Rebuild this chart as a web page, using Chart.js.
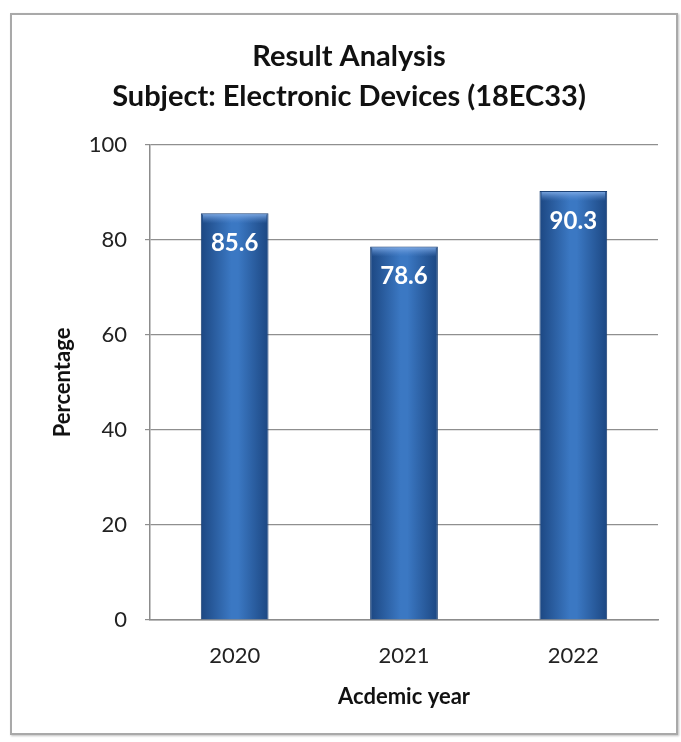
<!DOCTYPE html>
<html>
<head>
<meta charset="utf-8">
<script src="https://cdn.jsdelivr.net/npm/chart.js@4.4.1/dist/chart.umd.min.js"></script>
<style>
  html, body { margin: 0; padding: 0; background: #fff; }
  #moldura {
    position: absolute; left: 10px; top: 13px;
    width: 664px; height: 718px;
    border: 2px solid #a9a9a9;
    box-shadow: 1px 1px 2px rgba(0,0,0,0.25);
  }
  #chart { position: absolute; left: 0; top: 0; }
</style>
</head>
<body>
<div id="moldura"></div>
<canvas id="chart" width="681" height="742"></canvas>
<script>
// Resultado por ano acadêmico
const anos = ['2020', '2021', '2022'];
const percentuais = [85.6, 78.6, 90.3];
const titulo = ['Result Analysis', 'Subject: Electronic Devices (18EC33)'];

const FONTE = "Lato, 'Open Sans', sans-serif";

// gradiente horizontal de cada barra (bordas escuras, centro claro)
function corBarra(context) {
    const chart = context.chart;
    if (!chart.chartArea) return '#2f66ad';
    const x = chart.scales.x.getPixelForValue(context.dataIndex);
    const largura = chart.chartArea.width / anos.length * 0.4;
    const g = chart.ctx.createLinearGradient(x - largura / 2, 0, x + largura / 2, 0);
    g.addColorStop(0, '#1c4782');
    g.addColorStop(0.45, '#3b78c3');
    g.addColorStop(0.55, '#3b78c3');
    g.addColorStop(1, '#1c4782');
    return g;
}

// destaque no topo da barra + rótulo com o valor
const rotulosPlugin = {
    id: 'rotulos',
    afterDatasetsDraw(chart) {
        const ctx = chart.ctx;
        const meta = chart.getDatasetMeta(0);
        meta.data.forEach((bar, i) => {
            const w = bar.width;
            ctx.save();
            const g = ctx.createLinearGradient(0, bar.y, 0, bar.y + 10);
            g.addColorStop(0, 'rgba(135,178,235,0.95)');
            g.addColorStop(1, 'rgba(90,140,210,0)');
            ctx.fillStyle = g;
            ctx.fillRect(bar.x - w / 2 + 2, bar.y + 1, w - 4, 10);
            ctx.fillStyle = '#ffffff';
            ctx.font = 'bold 24px ' + FONTE;
            ctx.textAlign = 'center';
            ctx.textBaseline = 'middle';
            ctx.fillText(percentuais[i].toFixed(1), bar.x, bar.y + 30);
            ctx.restore();
        });
    }
};

new Chart(document.getElementById('chart'), {
    type: 'bar',
    data: {
        labels: anos,
        datasets: [{
            data: percentuais,
            backgroundColor: corBarra,
            borderColor: '#1a3f73',
            borderWidth: 1,
            borderSkipped: 'bottom',
            barPercentage: 0.4,
            categoryPercentage: 1
        }]
    },
    options: {
        responsive: false,
        animation: false,
        layout: { padding: { left: 40, right: 23, top: 37, bottom: 32 } },
        plugins: {
            legend: { display: false },
            tooltip: { enabled: false },
            title: {
                display: true,
                text: titulo,
                color: '#111',
                font: { family: FONTE, size: 29, weight: 'bold', lineHeight: 1.36 },
                padding: { top: 0, bottom: 29 }
            }
        },
        scales: {
            x: {
                grid: { display: false, drawTicks: false },
                border: { color: '#8c8c8c', width: 1.5 },
                ticks: { color: '#222', padding: 23, font: { family: FONTE, size: 22 } },
                title: {
                    display: true, text: 'Acdemic year', color: '#111',
                    font: { family: FONTE, size: 22, weight: 'bold' },
                    padding: { top: 10, bottom: 0 }
                },
                afterFit(scale) { scale.height = 90; }
            },
            y: {
                min: 0, max: 100,
                ticks: { stepSize: 20, color: '#222', padding: 18, font: { family: FONTE, size: 22 } },
                grid: { color: '#8f8f8f', lineWidth: 1.2, drawTicks: true, tickLength: 5 },
                border: { color: '#8c8c8c', width: 1.5 },
                title: {
                    display: true, text: 'Percentage', color: '#111',
                    font: { family: FONTE, size: 22, weight: 'bold' },
                    padding: { top: 10, bottom: 10 }
                },
                afterFit(scale) { scale.width = 110; }
            }
        }
    },
    plugins: [rotulosPlugin]
});
</script>
</body>
</html>
